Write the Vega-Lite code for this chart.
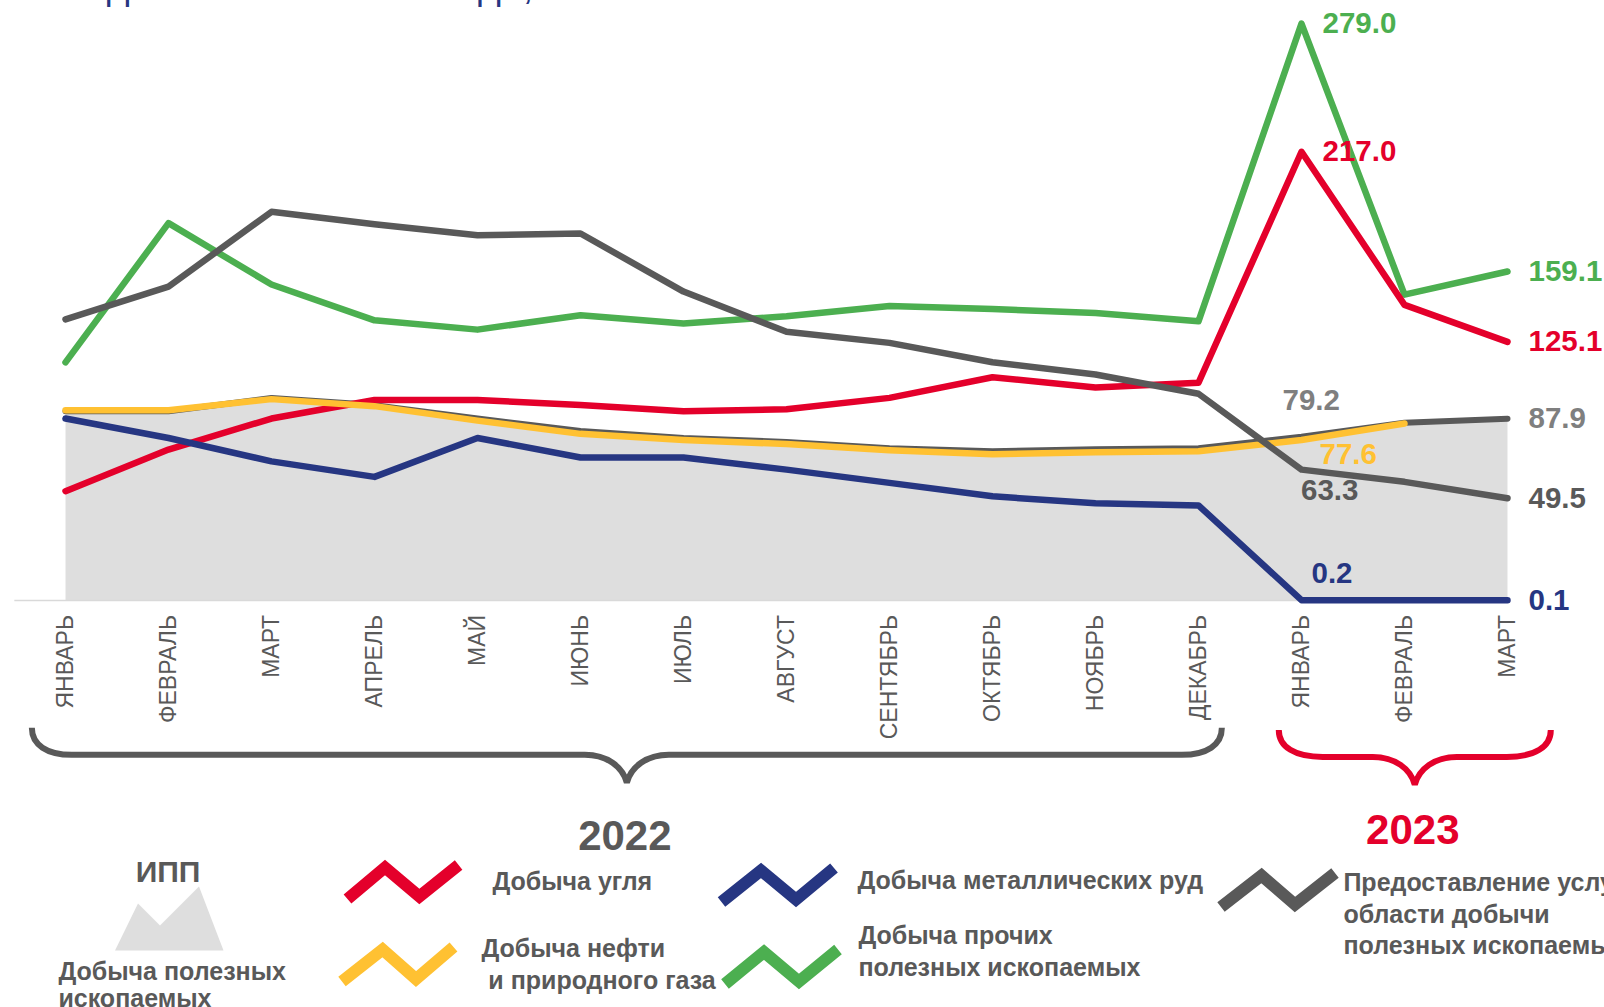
{"$schema":"https://vega.github.io/schema/vega-lite/v6.json","width":1604,"height":1007,"autosize":{"type":"none"},"padding":0,"background":"#ffffff","config":{"view":{"stroke":null},"font":"Liberation Sans","legend":{"orient":"none","padding":0,"labelFont":"Liberation Sans","labelFontWeight":"bold","labelFontSize":25,"labelColor":"#595959","labelLimit":3000,"symbolSize":4,"labelOffset":0,"titleFont":"Liberation Sans"}},"data":{"values":[
{"series":"Добыча угля","month":0,"value":52.9},{"series":"Добыча угля","month":1,"value":73},{"series":"Добыча угля","month":2,"value":88},{"series":"Добыча угля","month":3,"value":97},{"series":"Добыча угля","month":4,"value":97},{"series":"Добыча угля","month":5,"value":94.5},{"series":"Добыча угля","month":6,"value":91.5},{"series":"Добыча угля","month":7,"value":92.5},{"series":"Добыча угля","month":8,"value":98},{"series":"Добыча угля","month":9,"value":108},{"series":"Добыча угля","month":10,"value":103},{"series":"Добыча угля","month":11,"value":105.3},{"series":"Добыча угля","month":12,"value":217},{"series":"Добыча угля","month":13,"value":143},{"series":"Добыча угля","month":14,"value":125.1},
{"series":"Добыча металлических руд","month":0,"value":88},{"series":"Добыча металлических руд","month":1,"value":78.6},{"series":"Добыча металлических руд","month":2,"value":67.3},{"series":"Добыча металлических руд","month":3,"value":59.8},{"series":"Добыча металлических руд","month":4,"value":78.6},{"series":"Добыча металлических руд","month":5,"value":69.2},{"series":"Добыча металлических руд","month":6,"value":69.2},{"series":"Добыча металлических руд","month":7,"value":63.3},{"series":"Добыча металлических руд","month":8,"value":56.9},{"series":"Добыча металлических руд","month":9,"value":50.4},{"series":"Добыча металлических руд","month":10,"value":47},{"series":"Добыча металлических руд","month":11,"value":46},{"series":"Добыча металлических руд","month":12,"value":0.2},{"series":"Добыча металлических руд","month":13,"value":0.15},{"series":"Добыча металлических руд","month":14,"value":0.1},
{"series":"Предоставление услуг в области добычи полезных ископаемых","month":0,"value":136},{"series":"Предоставление услуг в области добычи полезных ископаемых","month":1,"value":151.8},{"series":"Предоставление услуг в области добычи полезных ископаемых","month":2,"value":188},{"series":"Предоставление услуг в области добычи полезных ископаемых","month":3,"value":182},{"series":"Предоставление услуг в области добычи полезных ископаемых","month":4,"value":176.6},{"series":"Предоставление услуг в области добычи полезных ископаемых","month":5,"value":177.5},{"series":"Предоставление услуг в области добычи полезных ископаемых","month":6,"value":149.4},{"series":"Предоставление услуг в области добычи полезных ископаемых","month":7,"value":130},{"series":"Предоставление услуг в области добычи полезных ископаемых","month":8,"value":124.6},{"series":"Предоставление услуг в области добычи полезных ископаемых","month":9,"value":115.2},{"series":"Предоставление услуг в области добычи полезных ископаемых","month":10,"value":109.3},{"series":"Предоставление услуг в области добычи полезных ископаемых","month":11,"value":100},{"series":"Предоставление услуг в области добычи полезных ископаемых","month":12,"value":63.3},{"series":"Предоставление услуг в области добычи полезных ископаемых","month":13,"value":57.4},{"series":"Предоставление услуг в области добычи полезных ископаемых","month":14,"value":49.5},
{"series":"Добыча нефти и природного газа","month":0,"value":92},{"series":"Добыча нефти и природного газа","month":1,"value":92},{"series":"Добыча нефти и природного газа","month":2,"value":97.4},{"series":"Добыча нефти и природного газа","month":3,"value":94},{"series":"Добыча нефти и природного газа","month":4,"value":87},{"series":"Добыча нефти и природного газа","month":5,"value":80.6},{"series":"Добыча нефти и природного газа","month":6,"value":77.6},{"series":"Добыча нефти и природного газа","month":7,"value":75.7},{"series":"Добыча нефти и природного газа","month":8,"value":72.7},{"series":"Добыча нефти и природного газа","month":9,"value":70.7},{"series":"Добыча нефти и природного газа","month":10,"value":71.7},{"series":"Добыча нефти и природного газа","month":11,"value":72.2},{"series":"Добыча нефти и природного газа","month":12,"value":77.6},{"series":"Добыча нефти и природного газа","month":13,"value":85.6},
{"series":"Добыча прочих полезных ископаемых","month":0,"value":115.2},{"series":"Добыча прочих полезных ископаемых","month":1,"value":182.5},{"series":"Добыча прочих полезных ископаемых","month":2,"value":152.8},{"series":"Добыча прочих полезных ископаемых","month":3,"value":135.5},{"series":"Добыча прочих полезных ископаемых","month":4,"value":131},{"series":"Добыча прочих полезных ископаемых","month":5,"value":138},{"series":"Добыча прочих полезных ископаемых","month":6,"value":134},{"series":"Добыча прочих полезных ископаемых","month":7,"value":137.5},{"series":"Добыча прочих полезных ископаемых","month":8,"value":142.4},{"series":"Добыча прочих полезных ископаемых","month":9,"value":141},{"series":"Добыча прочих полезных ископаемых","month":10,"value":139},{"series":"Добыча прочих полезных ископаемых","month":11,"value":135},{"series":"Добыча прочих полезных ископаемых","month":12,"value":279},{"series":"Добыча прочих полезных ископаемых","month":13,"value":147.9},{"series":"Добыча прочих полезных ископаемых","month":14,"value":159.1},
{"series":"Добыча полезных ископаемых","month":0,"value":91.5},{"series":"Добыча полезных ископаемых","month":1,"value":91.5},{"series":"Добыча полезных ископаемых","month":2,"value":98},{"series":"Добыча полезных ископаемых","month":3,"value":94.5},{"series":"Добыча полезных ископаемых","month":4,"value":88},{"series":"Добыча полезных ископаемых","month":5,"value":82},{"series":"Добыча полезных ископаемых","month":6,"value":78.6},{"series":"Добыча полезных ископаемых","month":7,"value":76.7},{"series":"Добыча полезных ископаемых","month":8,"value":73.7},{"series":"Добыча полезных ископаемых","month":9,"value":72.2},{"series":"Добыча полезных ископаемых","month":10,"value":73.2},{"series":"Добыча полезных ископаемых","month":11,"value":73.7},{"series":"Добыча полезных ископаемых","month":12,"value":79.2},{"series":"Добыча полезных ископаемых","month":13,"value":86},{"series":"Добыча полезных ископаемых","month":14,"value":87.9}
]},
"encoding":{"x":{"field":"month","type":"quantitative","title":null,"scale":{"domain":[-0.636,14.937],"nice":false,"zero":false},"axis":{"values":[0,1,2,3,4,5,6,7,8,9,10,11,12,13,14],"labelExpr":"['ЯНВАРЬ','ФЕВРАЛЬ','МАРТ','АПРЕЛЬ','МАЙ','ИЮНЬ','ИЮЛЬ','АВГУСТ','СЕНТЯБРЬ','ОКТЯБРЬ','НОЯБРЬ','ДЕКАБРЬ','ЯНВАРЬ','ФЕВРАЛЬ','МАРТ'][datum.value]","offset":-406.5,"domain":false,"ticks":false,"grid":false,"labelAngle":-90,"labelAlign":"right","labelBaseline":"middle","labelPadding":14,"labelFontSize":23,"labelColor":"#595959","labelFont":"Liberation Sans","labelOverlap":false}},"y":{"field":"value","type":"quantitative","title":null,"axis":null,"scale":{"domain":[-196.55,290.4],"nice":false,"zero":false}}},
"layer":[
{"transform":[{"filter":"datum.series=='Добыча полезных ископаемых'"}],"mark":{"type":"area","opacity":1},"encoding":{"color":{"field":"series","type":"nominal","scale":{"domain":["Добыча полезных ископаемых"],"range":["#dedede"]},"legend":{"legendX":33.4,"legendY":959.5,"title":null,"symbolType":"M69.1,-21.5L92.1,-68.5L114.1,-46.5L153.1,-85.5L177.6,-21.5Z","labelExpr":"['Добыча полезных','ископаемых']","encoding":{"labels":{"lineHeight":{"value":26.5}}}}}}},
{"data":{"values":[{"month":-0.497,"month_end":14,"value":0}]},"mark":{"type":"rule","color":"#d9d9d9","size":1.5},"encoding":{"x2":{"field":"month_end"}}},
{"transform":[{"filter":"datum.series=='Добыча полезных ископаемых'"}],"mark":{"type":"line","color":"#595959","strokeWidth":6,"strokeJoin":"round","strokeCap":"round"}},
{"transform":[{"filter":"datum.series=='Добыча прочих полезных ископаемых'"}],"mark":{"type":"line","strokeWidth":6.5,"strokeJoin":"round","strokeCap":"round"},"encoding":{"color":{"field":"series","type":"nominal","scale":{"domain":["Добыча прочих полезных ископаемых"],"range":["#4caf50"]},"legend":{"legendX":833.4,"legendY":923.5,"title":null,"symbolStrokeWidth":12,"symbolType":"M-120.9,48L-81.9,16L-46.9,45.5L-7.9,13.5","labelExpr":"['Добыча прочих','полезных ископаемых']","encoding":{"labels":{"lineHeight":{"value":31.5}}}}}}},
{"transform":[{"filter":"datum.series=='Добыча угля'"}],"mark":{"type":"line","strokeWidth":6.5,"strokeJoin":"round","strokeCap":"round"},"encoding":{"color":{"field":"series","type":"nominal","scale":{"domain":["Добыча угля"],"range":["#e4002b"]},"legend":{"legendX":467.4,"legendY":869.5,"title":null,"symbolStrokeWidth":12,"symbolType":"M-132.4,17L-94.9,-14.5L-60.5,14.5L-21.3,-17"}}}},
{"transform":[{"filter":"datum.series=='Добыча металлических руд'"}],"mark":{"type":"line","strokeWidth":6.5,"strokeJoin":"round","strokeCap":"round"},"encoding":{"color":{"field":"series","type":"nominal","scale":{"domain":["Добыча металлических руд"],"range":["#263682"]},"legend":{"legendX":832.4,"legendY":868.5,"title":null,"symbolStrokeWidth":12,"symbolType":"M-123.4,21L-83.9,-10.5L-48.9,18.5L-10.9,-13"}}}},
{"transform":[{"filter":"datum.series=='Добыча нефти и природного газа'"}],"mark":{"type":"line","strokeWidth":6.5,"strokeJoin":"round","strokeCap":"round"},"encoding":{"color":{"field":"series","type":"nominal","scale":{"domain":["Добыча нефти и природного газа"],"range":["#ffc132"]},"legend":{"legendX":456.4,"legendY":936.5,"title":null,"symbolStrokeWidth":12,"symbolType":"M-126.9,32.5L-86.3,0.5L-52.9,30L-15.4,-2","labelExpr":"['Добыча нефти','\u200b\u00a0и природного газа']","encoding":{"labels":{"lineHeight":{"value":31.5}}}}}}},
{"transform":[{"filter":"datum.series=='Предоставление услуг в области добычи полезных ископаемых'"}],"mark":{"type":"line","strokeWidth":6.5,"strokeJoin":"round","strokeCap":"round"},"encoding":{"color":{"field":"series","type":"nominal","scale":{"domain":["Предоставление услуг в области добычи полезных ископаемых"],"range":["#595959"]},"legend":{"legendX":1318.4,"legendY":870.5,"title":null,"symbolStrokeWidth":12,"symbolType":"M-109.9,24L-69.4,-7.5L-35.9,21.5L4.1,-10","labelExpr":"['Предоставление услуг в','области добычи','полезных ископаемых']","encoding":{"labels":{"lineHeight":{"value":31.5}}}}}}},
{"transform":[{"filter":"datum.series=='Добыча прочих полезных ископаемых' && (datum.month==12||datum.month==14)"}],"mark":{"type":"text","align":"left","dx":21,"dy":0.5,"fontSize":29.5,"fontWeight":"bold","color":"#4caf50"},"encoding":{"text":{"field":"value","format":".1f"}}},
{"transform":[{"filter":"datum.series=='Добыча угля' && (datum.month==12||datum.month==14)"}],"mark":{"type":"text","align":"left","dx":21,"dy":0.5,"fontSize":29.5,"fontWeight":"bold","color":"#e4002b"},"encoding":{"text":{"field":"value","format":".1f"}}},
{"transform":[{"filter":"datum.series=='Добыча металлических руд' && datum.month==14"}],"mark":{"type":"text","align":"left","dx":21,"dy":0.5,"fontSize":29.5,"fontWeight":"bold","color":"#263682"},"encoding":{"text":{"field":"value","format":".1f"}}},
{"transform":[{"filter":"datum.series=='Добыча металлических руд' && datum.month==12"}],"mark":{"type":"text","align":"left","dx":10,"dy":-26,"fontSize":29.5,"fontWeight":"bold","color":"#263682"},"encoding":{"text":{"field":"value","format":".1f"}}},
{"transform":[{"filter":"datum.series=='Предоставление услуг в области добычи полезных ископаемых' && datum.month==14"}],"mark":{"type":"text","align":"left","dx":21,"dy":0.5,"fontSize":29.5,"fontWeight":"bold","color":"#595959"},"encoding":{"text":{"field":"value","format":".1f"}}},
{"transform":[{"filter":"datum.series=='Предоставление услуг в области добычи полезных ископаемых' && datum.month==12"}],"mark":{"type":"text","align":"left","dx":-0.5,"dy":21.5,"fontSize":29.5,"fontWeight":"bold","color":"#595959"},"encoding":{"text":{"field":"value","format":".1f"}}},
{"transform":[{"filter":"datum.series=='Добыча полезных ископаемых' && datum.month==14"}],"mark":{"type":"text","align":"left","dx":21,"dy":0.5,"fontSize":29.5,"fontWeight":"bold","color":"#7f7f7f"},"encoding":{"text":{"field":"value","format":".1f"}}},
{"transform":[{"filter":"datum.series=='Добыча полезных ископаемых' && datum.month==12"}],"mark":{"type":"text","align":"left","dx":-19,"dy":-35.5,"fontSize":29.5,"fontWeight":"bold","color":"#7f7f7f"},"encoding":{"text":{"field":"value","format":".1f"}}},
{"transform":[{"filter":"datum.series=='Добыча нефти и природного газа' && datum.month==12"}],"mark":{"type":"text","align":"left","dx":18,"dy":15,"fontSize":29.5,"fontWeight":"bold","color":"#ffc132"},"encoding":{"text":{"field":"value","format":".1f"}}},
{"data":{"values":[{"month":5.45,"value":-74.6}]},"mark":{"type":"point","opacity":1,"filled":false,"size":4,"stroke":"#595959","strokeWidth":6,"shape":"M-595,-27C-595,-10 -580,0 -555,0L-42,0C-20,0 -4,12 0,28C4,12 20,0 42,0L555,0C580,0 595,-10 595,-27"}},
{"data":{"values":[{"month":13.1,"value":-75.6}]},"mark":{"type":"point","opacity":1,"filled":false,"size":4,"stroke":"#e4002b","strokeWidth":6,"shape":"M-136,-27C-136,-10 -120,0 -92,0L-42,0C-20,0 -4,12 0,28C4,12 20,0 42,0L92,0C120,0 136,-10 136,-27"}},
{"data":{"values":[{"period":"2022","month":5.45,"value":-74.6}]},"mark":{"type":"text","fontSize":42,"fontWeight":"bold","color":"#595959","dx":-2,"dy":82},"encoding":{"text":{"field":"period"}}},
{"data":{"values":[{"period":"2023","month":13.1,"value":-75.6}]},"mark":{"type":"text","fontSize":42,"fontWeight":"bold","color":"#e4002b","dx":-2,"dy":74},"encoding":{"text":{"field":"period"}}},
{"data":{"values":[{"label":"ИПП","month":0.995,"value":-131.8}]},"mark":{"type":"text","fontSize":30,"fontWeight":"bold","color":"#595959"},"encoding":{"text":{"field":"label"}}},
{"data":{"values":[{"title":"Индекс ИПП за 2022 года, %","month":-0.083,"value":290.9}]},"mark":{"type":"text","align":"left","baseline":"alphabetic","fontSize":39.2,"color":"#263682"},"encoding":{"text":{"field":"title"}}}
],"resolve":{"scale":{"color":"independent"},"legend":{"color":"independent"}}}
